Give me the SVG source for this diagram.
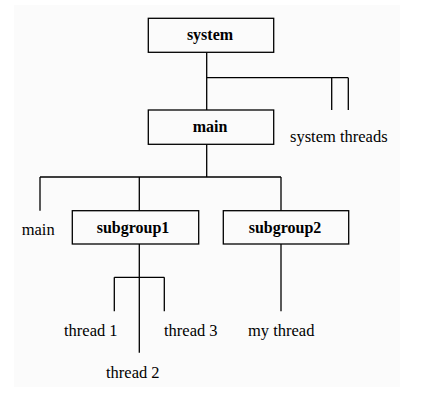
<svg xmlns="http://www.w3.org/2000/svg" width="423" height="400" viewBox="0 0 423 400">
<style>
.box{fill:#fbfbfb;stroke:#000;stroke-width:1.3}
.ln{fill:none;stroke:#000;stroke-width:1.3}
.b{font-family:"Liberation Serif",serif;font-weight:bold;font-size:16px;text-anchor:middle;fill:#000}
.t{font-family:"Liberation Serif",serif;font-size:16.5px;fill:#000}
</style>
<rect x="0" y="0" width="423" height="400" fill="#fff"/>
<rect x="14" y="5" width="386" height="382" fill="#fbfbfb"/>
<g id="connectors">
<path class="ln" d="M206.7 52.3V110M206.7 77.7H348.3M331.7 77.7V110M348.3 77.7V110"/>
<path class="ln" d="M206.7 144.3V177M40 177H281M40 177V210.7M139.3 177V210.7M281 177V210.7"/>
<path class="ln" d="M139.3 244V352.7M114.3 277.3H164.3M114.3 277.3V311.3M164.3 277.3V311.3"/>
<path class="ln" d="M281 244V311.3"/>
</g>
<g id="system"><rect class="box" x="148.3" y="18.3" width="125.4" height="34"/><text class="b" x="210" y="40">system</text></g>
<g id="main"><rect class="box" x="148.3" y="110" width="125.4" height="34.3"/><text class="b" x="210" y="132">main</text></g>
<g id="system-threads"><text class="t" x="290" y="142">system threads</text></g>
<g id="main-thread"><text class="t" x="21.7" y="235">main</text></g>
<g id="subgroup1"><rect class="box" x="72.3" y="210.7" width="126.4" height="33.3"/><text class="b" x="133" y="232.5">subgroup1</text></g>
<g id="subgroup2"><rect class="box" x="223.3" y="210.7" width="125.4" height="33.3"/><text class="b" x="285" y="232.5">subgroup2</text></g>
<g id="thread1"><text class="t" x="64" y="335.5">thread 1</text></g>
<g id="thread2"><text class="t" x="106" y="377.5">thread 2</text></g>
<g id="thread3"><text class="t" x="164" y="335.5">thread 3</text></g>
<g id="mythread"><text class="t" x="248" y="335.5">my thread</text></g>
</svg>
